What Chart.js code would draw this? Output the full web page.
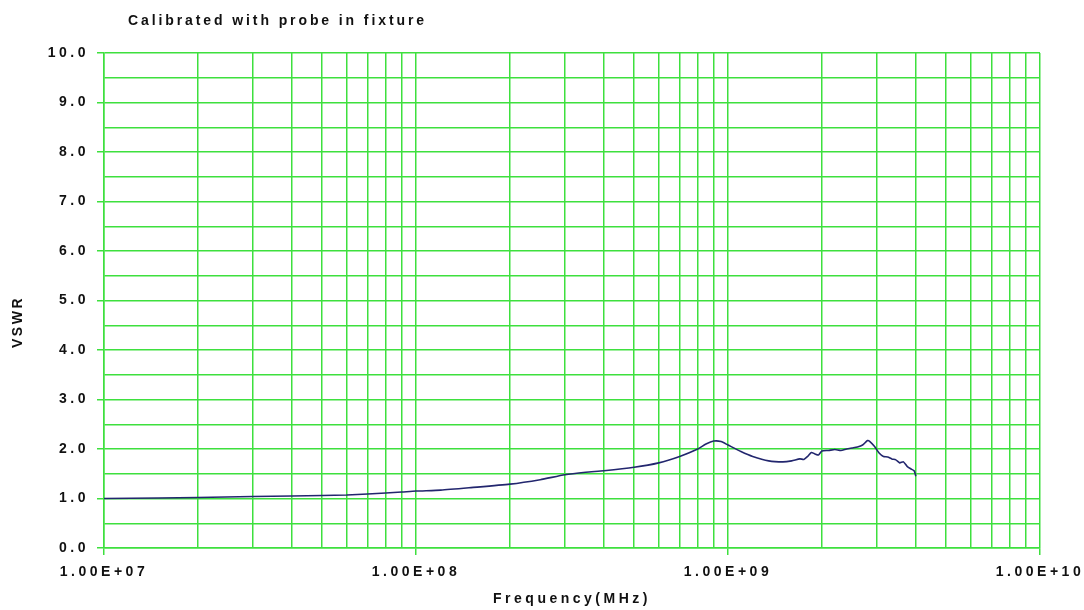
<!DOCTYPE html>
<html>
<head>
<meta charset="utf-8">
<script src="https://cdn.jsdelivr.net/npm/chart.js@4/dist/chart.umd.min.js"></script>
<style>
  html, body { margin: 0; padding: 0; background: #fff; }
  canvas { display: block; }
</style>
</head>
<body>
<canvas id="vswrChart" width="1084" height="610"></canvas>
<script>
// frecuencias (Hz) y VSWR
const freqs = [
  1e7, 1.5e7, 2e7, 3e7, 4e7, 5e7, 6e7, 7e7, 8e7, 9e7,
  1e8, 1.2e8, 1.5e8, 2e8, 2.5e8, 3e8, 3.5e8, 4e8, 5e8, 6e8,
  7e8, 8e8, 8.5e8, 9e8, 9.5e8, 1e9, 1.1e9, 1.2e9, 1.35e9, 1.5e9,
  1.6e9, 1.7e9, 1.75e9, 1.8e9, 1.85e9, 1.9e9, 1.95e9, 2.0e9, 2.1e9, 2.2e9,
  2.3e9, 2.4e9, 2.5e9, 2.6e9, 2.7e9, 2.8e9, 2.85e9, 2.95e9, 3.05e9, 3.15e9,
  3.25e9, 3.35e9, 3.45e9, 3.55e9, 3.65e9, 3.75e9, 3.85e9, 3.95e9, 4.0e9
];
const vswr = [
  1.00, 1.01, 1.02, 1.04, 1.05, 1.06, 1.07, 1.09, 1.11, 1.13,
  1.15, 1.17, 1.22, 1.29, 1.38, 1.48, 1.53, 1.56, 1.63, 1.72,
  1.85, 2.00, 2.10, 2.16, 2.15, 2.08, 1.95, 1.85, 1.76, 1.74,
  1.76, 1.80, 1.79, 1.85, 1.93, 1.90, 1.88, 1.96, 1.97, 1.99,
  1.97, 2.00, 2.02, 2.04, 2.08, 2.17, 2.15, 2.05, 1.92, 1.85,
  1.84, 1.80, 1.78, 1.72, 1.74, 1.65, 1.60, 1.56, 1.45
];

const decades = [1e7, 1e8, 1e9, 1e10];
const xTickLabels = ['1.00E+07', '1.00E+08', '1.00E+09', '1.00E+10'];

const chartTitle = 'Calibrated with probe in fixture';
const xTitle = 'Frequency(MHz)';
const yTitle = 'VSWR';

const verde = '#3ee03e';
const fuente = 'Liberation Sans, Arial, sans-serif';

// lineas de rejilla 1..9 por cada decada
const xGrid = [];
decades.slice(0, -1).forEach(d => {
  for (let k = 1; k < 10; k++) xGrid.push(d * k);
});
xGrid.push(decades[decades.length - 1]);

function esDecada(v) {
  const l = Math.log10(v);
  return Math.abs(l - Math.round(l)) < 1e-6;
}

// espaciado de letras como en la grafica original
const textoPlugin = {
  id: 'textoPlugin',
  beforeDraw(chart) {
    chart.ctx.letterSpacing = '3.5px';
  },
  afterDraw(chart) {
    const ctx = chart.ctx;
    ctx.save();
    ctx.fillStyle = '#111';
    ctx.letterSpacing = '2.9px';
    ctx.font = 'bold 14px ' + fuente;
    ctx.textBaseline = 'middle';
    ctx.textAlign = 'left';
    ctx.fillText(chartTitle, 128, 21);

    ctx.letterSpacing = '2.5px';
    ctx.font = 'bold 14px ' + fuente;
    ctx.translate(18, 322);
    ctx.rotate(-Math.PI / 2);
    ctx.textAlign = 'center';
    ctx.fillText(yTitle, 0, 0);
    ctx.restore();
    ctx.letterSpacing = '0px';
  }
};

const ctx = document.getElementById('vswrChart').getContext('2d');
new Chart(ctx, {
  type: 'line',
  data: {
    datasets: [{
      label: yTitle,
      data: freqs.map((f, i) => ({ x: f, y: vswr[i] })),
      borderColor: '#22266e',
      borderWidth: 1.6,
      pointRadius: 0,
      tension: 0.2,
      fill: false
    }]
  },
  options: {
    responsive: false,
    animation: false,
    devicePixelRatio: 1,
    layout: { padding: { top: 53, right: 44, left: 0, bottom: 0 } },
    plugins: {
      legend: { display: false },
      tooltip: { enabled: false }
    },
    scales: {
      x: {
        type: 'logarithmic',
        min: 1e7,
        max: 1e10,
        afterBuildTicks: s => { s.ticks = xGrid.map(v => ({ value: v })); },
        afterFit: s => { s.height = 62; },
        ticks: {
          autoSkip: false,
          maxRotation: 0,
          padding: 9,
          color: '#111',
          font: { family: fuente, size: 14, weight: 'bold' },
          callback: v => esDecada(v) ? xTickLabels[decades.findIndex(d => Math.abs(d - v) / d < 1e-6)] : ''
        },
        grid: {
          color: verde,
          lineWidth: 1.5,
          tickLength: 7,
          tickColor: c => (c.tick && esDecada(c.tick.value)) ? verde : 'rgba(0,0,0,0)'
        },
        border: { color: verde, width: 1.5 },
        title: {
          display: true,
          text: xTitle,
          color: '#111',
          font: { family: fuente, size: 14, weight: 'bold' },
          padding: { top: 0, bottom: 2 }
        }
      },
      y: {
        min: 0,
        max: 10,
        afterFit: s => { s.width = 104; },
        ticks: {
          stepSize: 0.5,
          autoSkip: false,
          padding: 8,
          color: '#111',
          font: { family: fuente, size: 14, weight: 'bold' },
          callback: v => Number.isInteger(v) ? v.toFixed(1) : ''
        },
        grid: {
          color: verde,
          lineWidth: 1.5,
          tickLength: 7,
          tickColor: c => (c.tick && Number.isInteger(c.tick.value)) ? verde : 'rgba(0,0,0,0)'
        },
        border: { color: verde, width: 1.5 }
      }
    }
  },
  plugins: [textoPlugin]
});
</script>
</body>
</html>
